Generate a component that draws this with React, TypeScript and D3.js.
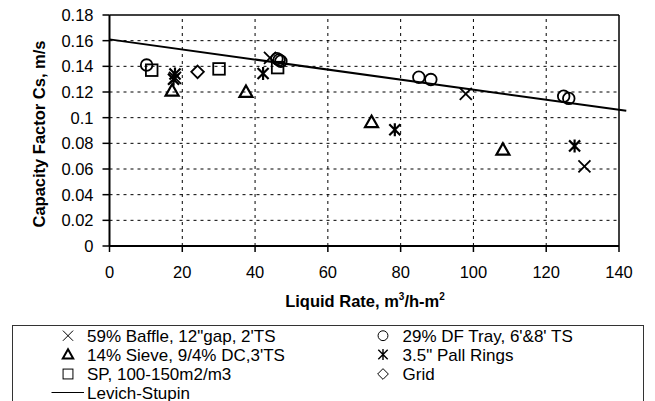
import React from "react";
import * as d3 from "d3";

const xTicks = [0, 20, 40, 60, 80, 100, 120, 140];
const yTicks = [0, 0.02, 0.04, 0.06, 0.08, 0.1, 0.12, 0.14, 0.16, 0.18];
const yTickLabels = ["0", "0.02", "0.04", "0.06", "0.08", "0.1", "0.12", "0.14", "0.16", "0.18"];

const baffle: [number, number][] = [[44.1, 0.1466], [18, 0.131], [97.9, 0.1185], [130.5, 0.062]];
const dfTray: [number, number][] = [[10.2, 0.141], [46, 0.146], [46.6, 0.145], [47.1, 0.144], [85, 0.1315], [88.3, 0.1297], [124.8, 0.1167], [126.2, 0.115]];
const sieve: [number, number][] = [[17.2, 0.121], [37.5, 0.12], [72, 0.0965], [108.1, 0.075]];
const pall: [number, number][] = [[42.2, 0.1344], [18, 0.134], [17.6, 0.13], [78.4, 0.0906], [127.8, 0.078]];
const sp: [number, number][] = [[11.6, 0.137], [30.1, 0.138], [46.2, 0.139]];
const grid: [number, number][] = [[24.2, 0.1357]];
const levich: [number, number][] = [[0, 0.161], [142, 0.1053]];

const legendLeft = ["59% Baffle, 12\"gap, 2'TS", "14% Sieve, 9/4% DC,3'TS", "SP, 100-150m2/m3", "Levich-Stupin"];
const legendRight = ["29% DF Tray, 6'&8' TS", "3.5\" Pall Rings", "Grid"];

const FONT = "'Liberation Sans', Arial, sans-serif";

type Kind = "x" | "circle" | "tri" | "star" | "square" | "diamond";

function Marker({ kind, x, y, s = 1, sw = 1.8 }: { kind: Kind; x: number; y: number; s?: number; sw?: number }) {
  const c = "#000";
  if (kind === "x") {
    const r = 6 * s;
    return <path d={`M${x - r},${y - r}L${x + r},${y + r}M${x - r},${y + r}L${x + r},${y - r}`} stroke={c} strokeWidth={sw} fill="none" />;
  }
  if (kind === "circle") return <circle cx={x} cy={y} r={5.8 * s} stroke={c} strokeWidth={sw} fill="none" />;
  if (kind === "square") {
    const r = 5.8 * s;
    return <rect x={x - r} y={y - r} width={2 * r} height={2 * r} stroke={c} strokeWidth={sw} fill="none" />;
  }
  if (kind === "diamond") {
    const r = 6.3 * s;
    return <path d={`M${x},${y - r}L${x + r},${y}L${x},${y + r}L${x - r},${y}Z`} stroke={c} strokeWidth={sw} fill="none" />;
  }
  if (kind === "tri") {
    const r = 6.5 * s;
    return <path d={`M${x},${y - r}L${x + r},${y + r * 0.75}L${x - r},${y + r * 0.75}Z`} stroke={c} strokeWidth={sw + 0.4} fill="none" strokeLinejoin="miter" />;
  }
  const r = 6.5 * s;
  return (
    <path
      d={`M${x - r * 0.85},${y - r * 0.85}L${x + r * 0.85},${y + r * 0.85}M${x - r * 0.85},${y + r * 0.85}L${x + r * 0.85},${y - r * 0.85}M${x},${y - r}L${x},${y + r}`}
      stroke={c}
      strokeWidth={sw + 0.4}
      fill="none"
    />
  );
}

export default function App() {
  const W = 655, H = 401;
  const x = d3.scaleLinear().domain([0, 140]).range([109.5, 619]);
  const y = d3.scaleLinear().domain([0, 0.18]).range([246, 15]);
  const line = d3.line<[number, number]>().x(d => x(d[0])).y(d => y(d[1]));

  const series: { kind: Kind; data: [number, number][] }[] = [
    { kind: "tri", data: sieve },
    { kind: "square", data: sp },
    { kind: "diamond", data: grid },
    { kind: "star", data: pall },
    { kind: "circle", data: dfTray },
    { kind: "x", data: baffle },
  ];

  const rowY = [335.7, 354.5, 374, 392.5];
  const FS = 16.5;

  return (
    <svg width={W} height={H} style={{ position: "absolute", left: 0, top: 0, background: "#fff" }} fontFamily={FONT}>
      <rect x={0} y={0} width={W} height={H} fill="#fff" />
      {yTicks.slice(1, -1).map(t => (
        <line key={"gy" + t} x1={x(0)} x2={x(140)} y1={y(t)} y2={y(t)} stroke="#000" strokeWidth={1} strokeDasharray="3,4" />
      ))}
      {xTicks.slice(1, -1).map(t => (
        <line key={"gx" + t} x1={x(t)} x2={x(t)} y1={y(0)} y2={y(0.18)} stroke="#000" strokeWidth={1} strokeDasharray="3,4" />
      ))}
      <line x1={x(0)} x2={x(140)} y1={y(0.18)} y2={y(0.18)} stroke="#000" strokeWidth={1.5} />
      <line x1={x(140)} x2={x(140)} y1={y(0.18)} y2={y(0)} stroke="#000" strokeWidth={1.5} />
      <line x1={x(0)} x2={x(0)} y1={y(0.18)} y2={y(0)} stroke="#000" strokeWidth={2} />
      <line x1={x(0)} x2={x(140)} y1={y(0)} y2={y(0)} stroke="#000" strokeWidth={2} />
      {yTicks.map((t, i) => (
        <g key={"yt" + t}>
          <line x1={x(0) - 7} x2={x(0)} y1={y(t)} y2={y(t)} stroke="#000" strokeWidth={1.5} />
          <text x={93.5} y={y(t) + 6} textAnchor="end" fontSize={FS}>{yTickLabels[i]}</text>
        </g>
      ))}
      {xTicks.map(t => (
        <g key={"xt" + t}>
          <line x1={x(t)} x2={x(t)} y1={y(0)} y2={y(0) + 6} stroke="#000" strokeWidth={1.5} />
          <text x={x(t)} y={278} textAnchor="middle" fontSize={FS}>{t}</text>
        </g>
      ))}
      <text transform={`translate(45,134) rotate(-90)`} textAnchor="middle" fontSize={FS} fontWeight="bold">Capacity Factor Cs, m/s</text>
      <text x={365} y={307} textAnchor="middle" fontSize={FS} fontWeight="bold">
        Liquid Rate, m<tspan dy={-7} fontSize={10}>3</tspan><tspan dy={7}>/h-m</tspan><tspan dy={-7} fontSize={10}>2</tspan>
      </text>
      <path d={line(levich) || ""} stroke="#000" strokeWidth={2} fill="none" />
      {series.map(s => s.data.map((d, i) => <Marker key={s.kind + i} kind={s.kind} x={x(d[0])} y={y(d[1])} />))}
      <rect x={12.5} y={325.5} width={631} height={100} fill="none" stroke="#333" strokeWidth={1} />
      <Marker kind="x" x={68} y={rowY[0]} s={0.85} sw={1} />
      <Marker kind="tri" x={68} y={rowY[1]} s={0.8} sw={1.6} />
      <Marker kind="square" x={68} y={rowY[2]} s={0.85} sw={1} />
      <line x1={51.5} x2={84} y1={rowY[3]} y2={rowY[3]} stroke="#000" strokeWidth={1} />
      {legendLeft.map((t, i) => (
        <text key={t} x={87} y={rowY[i] + 6} fontSize={17}>{t}</text>
      ))}
      <Marker kind="circle" x={383} y={rowY[0]} s={0.85} sw={1} />
      <Marker kind="star" x={383} y={rowY[1]} s={0.85} sw={1} />
      <Marker kind="diamond" x={383} y={rowY[2]} s={0.85} sw={1} />
      {legendRight.map((t, i) => (
        <text key={t} x={402.5} y={rowY[i] + 6} fontSize={17}>{t}</text>
      ))}
    </svg>
  );
}
